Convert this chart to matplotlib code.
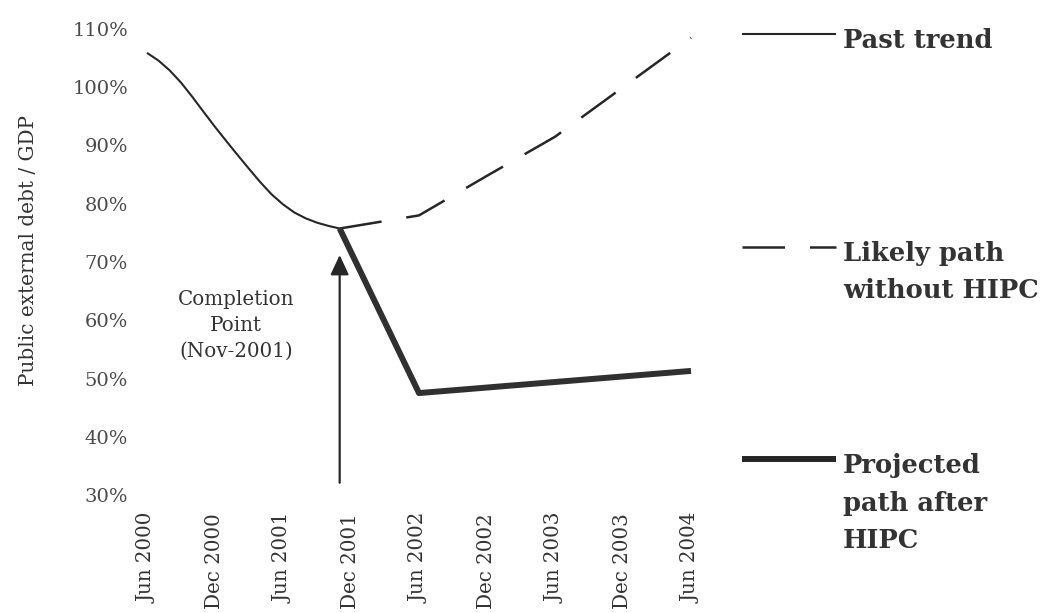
import matplotlib
matplotlib.use("Agg")
import matplotlib.pyplot as plt
from matplotlib.lines import Line2D

# ---------------- data (months since Jun 2000) ----------------
tick_labels = ["Jun 2000", "Dec 2000", "Jun 2001", "Dec 2001", "Jun 2002",
               "Dec 2002", "Jun 2003", "Dec 2003", "Jun 2004"]
tick_months = [0, 6, 12, 18, 24, 30, 36, 42, 48]

past_months = list(range(0, 18))
past_values = [105.9, 104.6, 102.9, 100.8, 98.35, 95.75, 93.2, 90.75, 88.35,
               86.0, 83.7, 81.6, 79.9, 78.5, 77.5, 76.75, 76.2, 75.75]

likely_months = [17, 24, 30, 36, 42, 48]
likely_values = [75.75, 78.0, 84.8, 91.5, 100.0, 108.5]

projected_months = [17, 24, 48]
projected_values = [75.75, 47.5, 51.3]

completion_month = 17
arrow_from, arrow_to = 32.1, 71.2
y_ticks = [30, 40, 50, 60, 70, 80, 90, 100, 110]

legend_labels = [["Past trend"], ["Likely path", "without HIPC"],
                 ["Projected", "path after", "HIPC"]]

# ---------------- figure ----------------
W, H = 1054, 613
fig = plt.figure(figsize=(W / 100, H / 100), dpi=100)
fig.patch.set_facecolor("white")

def fx(px):
    return px / W

def fy(py):
    return 1 - py / H

ax = fig.add_axes([fx(147), fy(495), fx(691) - fx(147), fy(29) - fy(495)])
ax.set_xlim(0, 48)
ax.set_ylim(30, 110)
for s in ax.spines.values():
    s.set_visible(False)

SERIF = "DejaVu Serif"
dark = "#262626"

thin_lw = 1.5
dash_lw = 1.8
thick_lw = 4.3
dash_style = (0, (17, 10))

ax.plot(past_months, past_values, color=dark, lw=thin_lw, clip_on=False,
        solid_capstyle="butt", solid_joinstyle="round", zorder=3)
ax.plot(likely_months, likely_values, color=dark, lw=dash_lw, ls=dash_style,
        clip_on=False, dash_capstyle="butt", zorder=3)
ax.plot(projected_months, projected_values, color="#303030", lw=thick_lw,
        clip_on=False, solid_capstyle="butt", zorder=4)

ax.annotate("", xy=(completion_month, arrow_to),
            xytext=(completion_month, arrow_from),
            arrowprops=dict(arrowstyle="-|>,head_length=0.6,head_width=0.28",
                            lw=1.6, color=dark, mutation_scale=20,
                            shrinkA=0, shrinkB=0), annotation_clip=False)

ax.text(fx(236), fy(290), "Completion\nPoint\n(Nov-2001)",
        transform=fig.transFigure, ha="center", va="top",
        fontsize=14.3, family=SERIF, color="#333333", linespacing=1.45)

ax.set_yticks(y_ticks)
ax.set_yticklabels([f"{v}%" for v in y_ticks], family=SERIF, fontsize=14,
                   color="#4a4a4a")
ax.set_xticks(tick_months)
ax.set_xticklabels(tick_labels, rotation=90, family=SERIF, fontsize=14.3,
                   color="#333333", ha="center", va="top")
ax.tick_params(axis="y", length=0, pad=13.7)
ax.tick_params(axis="x", length=0, pad=13)

ax.set_ylabel("Public external debt / GDP", family=SERIF, fontsize=14.4,
              color="#333333")
ax.yaxis.label.set_verticalalignment("center")
ax.yaxis.set_label_coords((28 - 147) / 544, (495 - 251) / 466)

# ---------------- legend (manual) ----------------
legend_line_y = [34, 247, 459]
legend_styles = [dict(lw=thin_lw, ls="-"), dict(lw=dash_lw, ls=dash_style),
                 dict(lw=thick_lw, ls="-")]
line_pitch = 38
for ly, style, lines in zip(legend_line_y, legend_styles, legend_labels):
    fig.add_artist(Line2D([fx(742), fx(836)], [fy(ly), fy(ly)],
                          color=dark, solid_capstyle="butt",
                          dash_capstyle="butt", **style))
    for i, t in enumerate(lines):
        fig.text(fx(843), fy(ly + 13.5 + i * line_pitch), t, ha="left",
                 va="baseline", family=SERIF, fontweight="bold",
                 fontsize=18.5, color="#333333")

fig.savefig("out.png", dpi=100, facecolor="white")
